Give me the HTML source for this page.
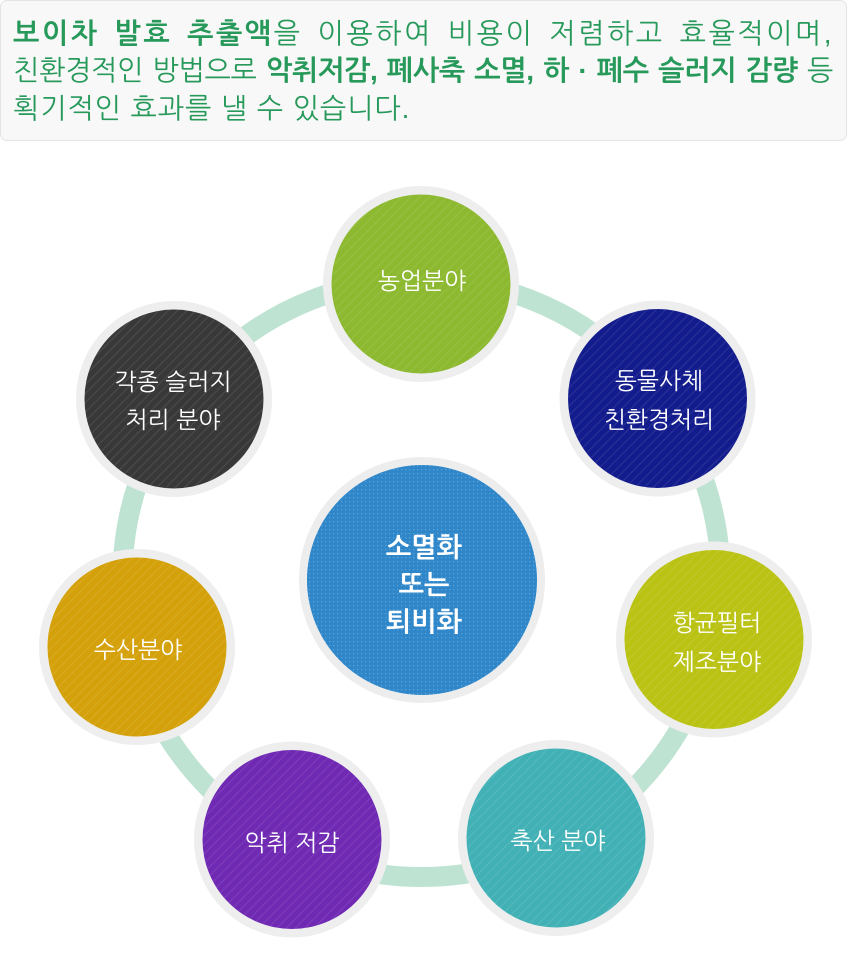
<!DOCTYPE html>
<html lang="ko">
<head>
<meta charset="utf-8">
<style>
  html,body{margin:0;padding:0;background:#fff;}
  body{width:848px;height:973px;position:relative;overflow:hidden;}
  .hdr{position:absolute;left:0;top:0;width:845px;height:139px;background:#f8f8f8;border:1px solid #e4e4e4;border-radius:7px;}
  .ln{position:absolute;left:13px;height:37px;line-height:37px;font-family:"Liberation Sans","NanumGothic","Noto Sans CJK KR",sans-serif;font-size:28px;color:#27995a;text-align:justify;text-align-last:justify;white-space:normal;word-break:keep-all;}
  .ln b{font-weight:700;}
  .l1{top:15px;width:821px;letter-spacing:2.5px;}
  .l2{top:52px;width:820px;word-spacing:-5px;letter-spacing:-0.3px;}
  .l3{top:90px;letter-spacing:0.9px;white-space:nowrap;text-align:left;text-align-last:left;}
  svg{position:absolute;left:0;top:0;}
  .lbl{font-family:"Liberation Sans","NanumGothic","Noto Sans CJK KR",sans-serif;font-size:23.5px;fill:#fff;}
  .ctr{font-family:"Liberation Sans","NanumGothic","Noto Sans CJK KR",sans-serif;font-size:27px;font-weight:700;fill:#fff;}
</style>
</head>
<body>
<div class="hdr"></div>
<div class="ln l1"><b>보이차 발효 추출액</b>을 이용하여 비용이 저렴하고 효율적이며,</div>
<div class="ln l2">친환경적인 방법으로 <b>악취저감, 폐사축 소멸, 하 · 폐수 슬러지 감량</b> 등</div>
<div class="ln l3">획기적인 효과를 낼 수 있습니다.</div>

<svg width="848" height="973" viewBox="0 0 848 973" style="top:0">
  <defs>
    <pattern id="st" width="6.5" height="6.5" patternUnits="userSpaceOnUse" patternTransform="rotate(45)">
      <rect x="0" y="0" width="1.2" height="6.5" fill="#ffffff" opacity="0.09"/>
    </pattern>
    <pattern id="dt" width="4" height="4" patternUnits="userSpaceOnUse">
      <rect x="1" y="1" width="1.2" height="1.2" fill="#8cc4ec" opacity="0.5"/>
    </pattern>
  </defs>

  <!-- track ring -->
  <circle cx="421.5" cy="578" r="299" fill="none" stroke="#bfe3d2" stroke-width="20"/>

  <!-- center -->
  <circle cx="422" cy="580" r="123" fill="#ededed"/>
  <circle cx="422" cy="580" r="115" fill="#2f87c9"/>
  <circle cx="422" cy="580" r="115" fill="url(#dt)"/>
  <text class="ctr" x="424" y="547.5" text-anchor="middle" dominant-baseline="central">소멸화</text>
  <text class="ctr" x="424" y="585" text-anchor="middle" dominant-baseline="central">또는</text>
  <text class="ctr" x="424" y="622" text-anchor="middle" dominant-baseline="central">퇴비화</text>

  <!-- 농업분야 -->
  <circle cx="421" cy="284" r="98" fill="#eeeeee"/>
  <circle cx="421" cy="284" r="89.5" fill="#8cb92f"/>
  <circle cx="421" cy="284" r="89.5" fill="url(#st)"/>
  <text class="lbl" x="422" y="281" text-anchor="middle" dominant-baseline="central">농업분야</text>

  <!-- 동물사체 -->
  <circle cx="657.5" cy="398.5" r="98" fill="#eeeeee"/>
  <circle cx="657.5" cy="398.5" r="89.5" fill="#131c8c"/>
  <circle cx="657.5" cy="398.5" r="89.5" fill="url(#st)"/>
  <text class="lbl" x="659" y="381" text-anchor="middle" dominant-baseline="central">동물사체</text>
  <text class="lbl" x="659" y="420" text-anchor="middle" dominant-baseline="central">친환경처리</text>

  <!-- 항균필터 -->
  <circle cx="714" cy="639.5" r="98" fill="#eeeeee"/>
  <circle cx="714" cy="639.5" r="89.5" fill="#bac214"/>
  <circle cx="714" cy="639.5" r="89.5" fill="url(#st)"/>
  <text class="lbl" x="717" y="623" text-anchor="middle" dominant-baseline="central">항균필터</text>
  <text class="lbl" x="717" y="662" text-anchor="middle" dominant-baseline="central">제조분야</text>

  <!-- 축산 분야 -->
  <circle cx="556" cy="838" r="98" fill="#eeeeee"/>
  <circle cx="556" cy="838" r="89.5" fill="#41b1b6"/>
  <circle cx="556" cy="838" r="89.5" fill="url(#st)"/>
  <text class="lbl" x="558" y="841" text-anchor="middle" dominant-baseline="central">축산 분야</text>

  <!-- 악취 저감 -->
  <circle cx="292" cy="839.5" r="98" fill="#eeeeee"/>
  <circle cx="292" cy="839.5" r="89.5" fill="#6f29b3"/>
  <circle cx="292" cy="839.5" r="89.5" fill="url(#st)"/>
  <text class="lbl" x="292" y="843" text-anchor="middle" dominant-baseline="central">악취 저감</text>

  <!-- 수산분야 -->
  <circle cx="137" cy="647" r="98" fill="#eeeeee"/>
  <circle cx="137" cy="647" r="89.5" fill="#d4a10b"/>
  <circle cx="137" cy="647" r="89.5" fill="url(#st)"/>
  <text class="lbl" x="138" y="650" text-anchor="middle" dominant-baseline="central">수산분야</text>

  <!-- 각종 슬러지 -->
  <circle cx="174" cy="399" r="98" fill="#eeeeee"/>
  <circle cx="174" cy="399" r="89.5" fill="#383838"/>
  <circle cx="174" cy="399" r="89.5" fill="url(#st)"/>
  <text class="lbl" x="173" y="382" text-anchor="middle" dominant-baseline="central">각종 슬러지</text>
  <text class="lbl" x="173" y="420" text-anchor="middle" dominant-baseline="central">처리 분야</text>
</svg>
</body>
</html>
